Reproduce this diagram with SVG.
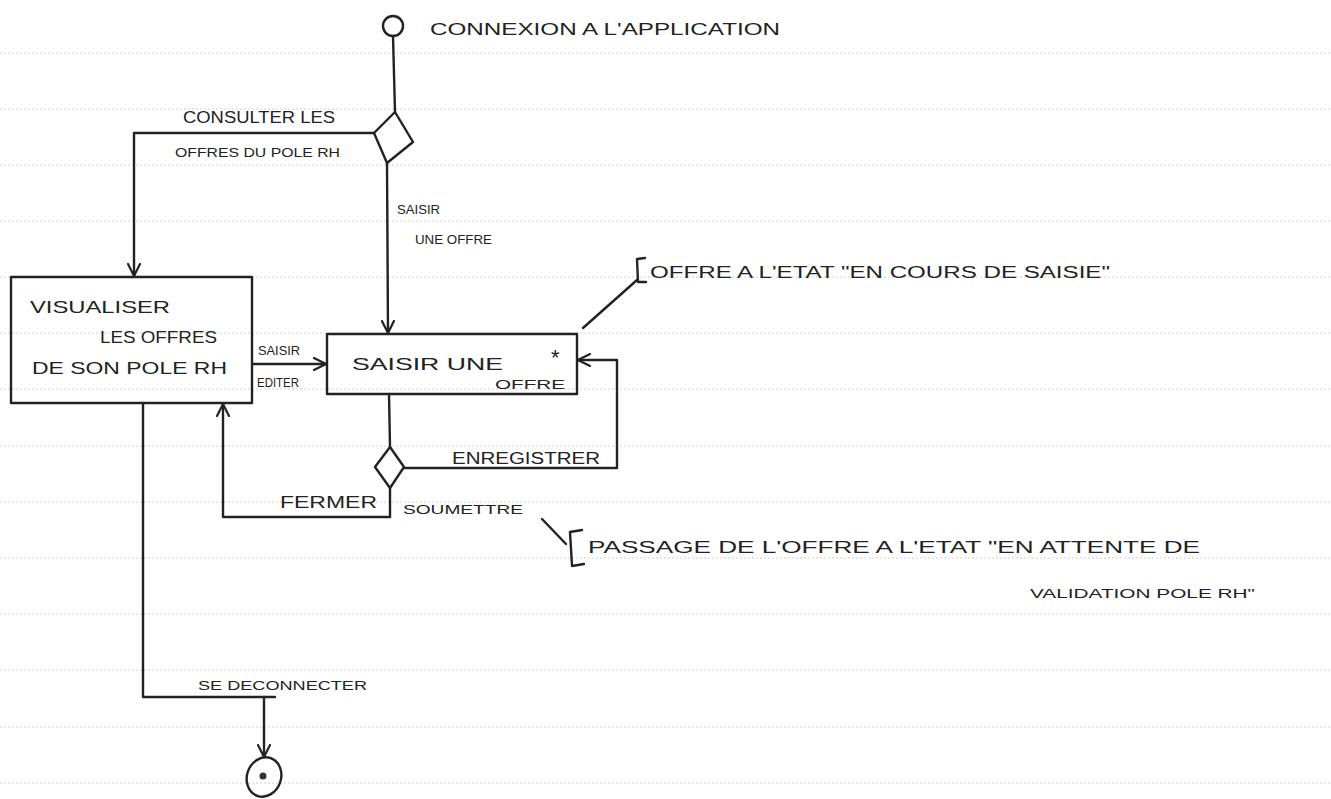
<svg xmlns="http://www.w3.org/2000/svg" width="1331" height="799" viewBox="0 0 1331 799">
<style>
.rule{stroke:#cfcfcf;stroke-width:1;stroke-dasharray:2 2}
.ink{fill:none;stroke:#222;stroke-width:2.4;stroke-linecap:round;stroke-linejoin:round}
.t{font-family:"Liberation Sans",Arial,sans-serif;fill:#222;font-size:16px}
.tb{font-family:"Liberation Sans",Arial,sans-serif;fill:#222;font-size:17px}
.ts{font-family:"Liberation Sans",Arial,sans-serif;fill:#222;font-size:13.5px}
</style>
<defs>
<marker id="arr" viewBox="0 0 14 14" refX="13" refY="7" markerWidth="14" markerHeight="14" markerUnits="userSpaceOnUse" orient="auto">
<polyline points="1,1 13,7 1,13" fill="none" stroke="#222" stroke-width="2.2" stroke-linecap="round" stroke-linejoin="round"/>
</marker>
</defs>
<rect width="1331" height="799" fill="#fff"/>
<g id="ruled-paper">
<line class="rule" x1="0" y1="53" x2="1331" y2="53"/>
<line class="rule" x1="0" y1="109" x2="1331" y2="109"/>
<line class="rule" x1="0" y1="165" x2="1331" y2="165"/>
<line class="rule" x1="0" y1="221" x2="1331" y2="221"/>
<line class="rule" x1="0" y1="277" x2="1331" y2="277"/>
<line class="rule" x1="0" y1="333" x2="1331" y2="333"/>
<line class="rule" x1="0" y1="389" x2="1331" y2="389"/>
<line class="rule" x1="0" y1="446" x2="1331" y2="446"/>
<line class="rule" x1="0" y1="502" x2="1331" y2="502"/>
<line class="rule" x1="0" y1="558" x2="1331" y2="558"/>
<line class="rule" x1="0" y1="614" x2="1331" y2="614"/>
<line class="rule" x1="0" y1="670" x2="1331" y2="670"/>
<line class="rule" x1="0" y1="727" x2="1331" y2="727"/>
<line class="rule" x1="0" y1="783" x2="1331" y2="783"/>
</g>
<g id="connectors">
<path class="ink" d="M393,36 L395,112"/>
<path class="ink" d="M374,133 L134,133 L134,276" marker-end="url(#arr)"/>
<path class="ink" d="M387,163 L388,333" marker-end="url(#arr)"/>
<path class="ink" d="M252,364 L326,364" marker-end="url(#arr)"/>
<path class="ink" d="M389,394 L390,447"/>
<path class="ink" d="M404,468 L617,468 L617,360 L578,360" marker-end="url(#arr)"/>
<path class="ink" d="M390,488 L390,517 L223,517 L223,404" marker-end="url(#arr)"/>
<path class="ink" d="M143,403 L143,697 L275,697"/>
<path class="ink" d="M264,697 L264,757" marker-end="url(#arr)"/>
<path class="ink" d="M583,328 L637,280"/>
<path class="ink" d="M542,519 L566,544"/>
<text class="t" x="183" y="123" textLength="152" lengthAdjust="spacingAndGlyphs">CONSULTER LES</text>
<text class="ts" x="175" y="157" textLength="165" lengthAdjust="spacingAndGlyphs">OFFRES DU POLE RH</text>
<text class="ts" x="397" y="214" textLength="43" lengthAdjust="spacingAndGlyphs">SAISIR</text>
<text class="ts" x="415" y="244" textLength="77" lengthAdjust="spacingAndGlyphs">UNE OFFRE</text>
<text class="ts" x="258" y="355" textLength="42" lengthAdjust="spacingAndGlyphs">SAISIR</text>
<text class="ts" x="257" y="387" textLength="42" lengthAdjust="spacingAndGlyphs">EDITER</text>
<text class="t" x="452" y="464" textLength="148" lengthAdjust="spacingAndGlyphs">ENREGISTRER</text>
<text class="t" x="280" y="508" textLength="97" lengthAdjust="spacingAndGlyphs">FERMER</text>
<text class="ts" x="403" y="514" textLength="120" lengthAdjust="spacingAndGlyphs">SOUMETTRE</text>
<text class="ts" x="198" y="690" textLength="169" lengthAdjust="spacingAndGlyphs">SE DECONNECTER</text>
</g>
<g id="start">
<circle class="ink" cx="393" cy="26" r="10"/>
<text class="t" x="430" y="35" textLength="350" lengthAdjust="spacingAndGlyphs">CONNEXION A L'APPLICATION</text>
</g>
<g id="decision1">
<polygon class="ink" points="395,112 413,142 387,163 374,133"/>
</g>
<g id="visualiser">
<rect class="ink" x="11" y="277" width="241" height="126"/>
<text class="tb" x="30" y="313" textLength="140" lengthAdjust="spacingAndGlyphs">VISUALISER</text>
<text class="tb" x="100" y="343" textLength="117" lengthAdjust="spacingAndGlyphs">LES OFFRES</text>
<text class="tb" x="32" y="374" textLength="195" lengthAdjust="spacingAndGlyphs">DE SON POLE RH</text>
</g>
<g id="saisir">
<rect class="ink" x="327" y="334" width="250" height="60"/>
<text class="tb" x="352" y="370" textLength="151" lengthAdjust="spacingAndGlyphs">SAISIR UNE</text>
<text class="ts" x="495" y="389" textLength="70" lengthAdjust="spacingAndGlyphs">OFFRE</text>
<text x="551" y="365" font-family="Liberation Sans, Arial, sans-serif" font-size="22" fill="#222">*</text>
</g>
<g id="decision2">
<polygon class="ink" points="390,447 404,467 390,488 375,467"/>
</g>
<g id="end">
<ellipse class="ink" cx="264" cy="777" rx="17" ry="20" transform="rotate(20 264 777)"/>
<circle cx="263" cy="776" r="3.5" fill="#333"/>
</g>
<g id="note-saisie">
<path class="ink" d="M645,258 L637,259 L638,282 L646,282"/>
<text class="t" x="650" y="278" textLength="460" lengthAdjust="spacingAndGlyphs">OFFRE A L'ETAT "EN COURS DE SAISIE"</text>
</g>
<g id="note-validation">
<path class="ink" d="M582,530 L570,532 L572,566 L584,564"/>
<text class="t" x="588" y="553" textLength="612" lengthAdjust="spacingAndGlyphs">PASSAGE DE L'OFFRE A L'ETAT "EN ATTENTE DE</text>
<text class="ts" x="1030" y="598" textLength="225" lengthAdjust="spacingAndGlyphs">VALIDATION POLE RH"</text>
</g>
</svg>
